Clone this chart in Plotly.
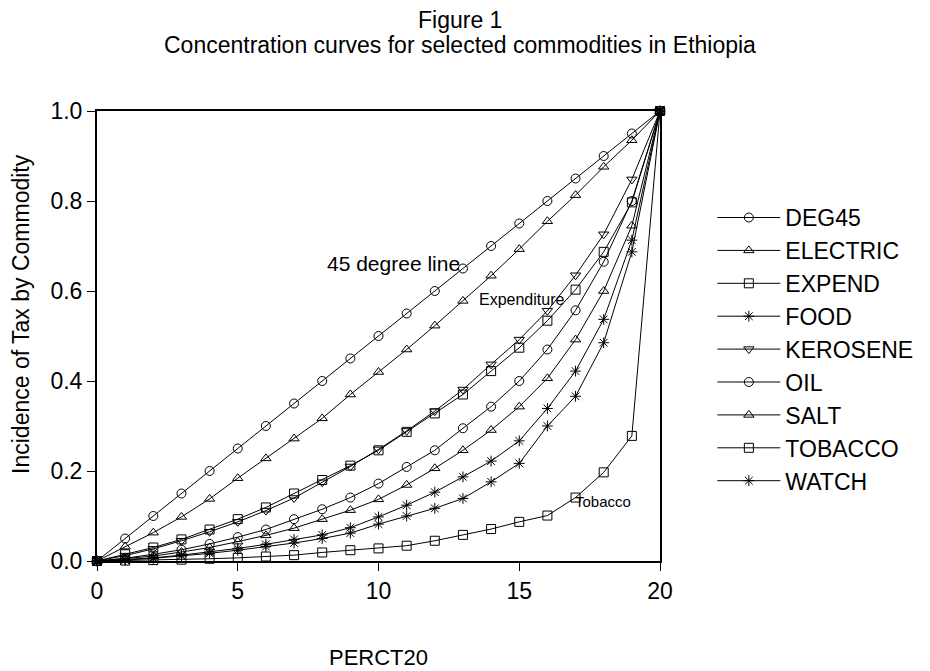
import plotly.graph_objects as go

percentile = list(range(0, 21))

deg45 = [0.00, 0.05, 0.10, 0.15, 0.20, 0.25, 0.30, 0.35, 0.40, 0.45, 0.50,
         0.55, 0.60, 0.65, 0.70, 0.75, 0.80, 0.85, 0.90, 0.95, 1.00]
electric = [0.000, 0.032, 0.063, 0.098, 0.138, 0.184, 0.228, 0.272, 0.317, 0.370, 0.420,
            0.470, 0.523, 0.578, 0.634, 0.693, 0.755, 0.813, 0.876, 0.935, 1.000]
expend = [0.000, 0.015, 0.030, 0.048, 0.070, 0.093, 0.119, 0.150, 0.180, 0.212, 0.246,
          0.287, 0.328, 0.370, 0.422, 0.474, 0.534, 0.603, 0.687, 0.797, 1.000]
food = [0.000, 0.003, 0.007, 0.013, 0.020, 0.028, 0.037, 0.048, 0.058, 0.074, 0.098,
        0.124, 0.153, 0.187, 0.222, 0.267, 0.339, 0.422, 0.537, 0.713, 1.000]
kerosene = [0.000, 0.012, 0.027, 0.045, 0.065, 0.087, 0.112, 0.140, 0.175, 0.210, 0.248,
            0.289, 0.333, 0.381, 0.437, 0.492, 0.556, 0.635, 0.726, 0.848, 1.000]
oil = [0.000, 0.006, 0.015, 0.025, 0.038, 0.053, 0.070, 0.093, 0.115, 0.141, 0.172,
       0.209, 0.246, 0.295, 0.343, 0.400, 0.470, 0.557, 0.665, 0.800, 1.000]
salt = [0.000, 0.005, 0.011, 0.020, 0.030, 0.043, 0.057, 0.073, 0.093, 0.113, 0.137,
        0.169, 0.206, 0.246, 0.291, 0.343, 0.406, 0.492, 0.600, 0.745, 1.000]
tobacco = [0.000, 0.001, 0.002, 0.003, 0.005, 0.007, 0.010, 0.013, 0.019, 0.024, 0.028,
           0.034, 0.045, 0.058, 0.071, 0.087, 0.101, 0.141, 0.197, 0.278, 1.000]
watch = [0.000, 0.002, 0.006, 0.011, 0.017, 0.024, 0.032, 0.040, 0.050, 0.062, 0.082,
         0.100, 0.117, 0.139, 0.176, 0.217, 0.300, 0.366, 0.485, 0.687, 1.000]

series_names = ["DEG45", "ELECTRIC", "EXPEND", "FOOD", "KEROSENE", "OIL", "SALT", "TOBACCO", "WATCH"]
series_values = [deg45, electric, expend, food, kerosene, oil, salt, tobacco, watch]
series_symbols = ["circle-open", "triangle-up-open", "square-open", "asterisk-open",
                  "triangle-down-open", "circle-open", "triangle-up-open", "square-open",
                  "asterisk-open"]

x_ticks = [0, 5, 10, 15, 20]
y_ticks = [0.0, 0.2, 0.4, 0.6, 0.8, 1.0]

curve_labels = ["45 degree line", "Expenditure", "Tobacco"]
label_x = [12.95, 13.5, 16.9]
label_y = [0.662, 0.581, 0.132]

title_lines = ["Figure 1", "Concentration curves for selected commodities in Ethiopia"]

FONT = "Liberation Sans, Arial, sans-serif"

fig = go.Figure()
for name, vals, sym in zip(series_names, series_values, series_symbols):
    fig.add_trace(go.Scatter(
        x=percentile, y=vals, name=name, mode="lines+markers",
        line=dict(color="black", width=1),
        marker=dict(symbol=sym, size=9, color="black", line=dict(width=1, color="black")),
        cliponaxis=False,
    ))

fig.add_annotation(x=label_x[0], y=label_y[0], text=curve_labels[0], showarrow=False,
                   xanchor="right", yanchor="middle", font=dict(size=21, color="black", family=FONT))
fig.add_annotation(x=label_x[1], y=label_y[1], text=curve_labels[1], showarrow=False,
                   xanchor="left", yanchor="middle", font=dict(size=16, color="black", family=FONT))
fig.add_annotation(x=label_x[2], y=label_y[2], text=curve_labels[2], showarrow=False,
                   xanchor="left", yanchor="middle", font=dict(size=15, color="black", family=FONT))

# title lines
fig.add_annotation(xref="paper", yref="paper", x=0.6456, y=1.2014, text=title_lines[0],
                   showarrow=False, xanchor="center", yanchor="middle",
                   font=dict(size=23, color="black", family=FONT))
fig.add_annotation(xref="paper", yref="paper", x=0.6456, y=1.1459, text=title_lines[1],
                   showarrow=False, xanchor="center", yanchor="middle",
                   font=dict(size=23, color="black", family=FONT))

# axis titles
fig.add_annotation(xref="paper", yref="paper", x=-0.135, y=0.549, text="Incidence of Tax by Commodity",
                   textangle=-90, showarrow=False, xanchor="center", yanchor="middle",
                   font=dict(size=23, color="black", family=FONT))
fig.add_annotation(xref="paper", yref="paper", x=0.5, y=-0.2154, text="PERCT20",
                   showarrow=False, xanchor="center", yanchor="middle",
                   font=dict(size=22, color="black", family=FONT))

fig.update_layout(
    width=922, height=663,
    margin=dict(l=89, r=263, t=103, b=110),
    paper_bgcolor="white", plot_bgcolor="white",
    font=dict(family=FONT, color="black"),
    showlegend=True,
    legend=dict(x=1.093, xanchor="left", y=0.811, yanchor="top",
                font=dict(size=23, color="black", family=FONT),
                itemwidth=63,
                bgcolor="rgba(0,0,0,0)", tracegroupgap=0),
)
fig.update_xaxes(range=[0, 20], tickvals=x_ticks, ticks="outside", ticklen=8,
                 tickwidth=1, tickcolor="black", showline=True, linecolor="black", linewidth=2,
                 mirror=True, showgrid=False, zeroline=False,
                 tickfont=dict(size=23, color="black", family=FONT))
fig.update_yaxes(range=[0, 1], tickvals=y_ticks, tickformat=".1f",
                 ticks="outside", ticklen=8, tickwidth=1, tickcolor="black",
                 showline=True, linecolor="black", linewidth=2, mirror=True,
                 showgrid=False, zeroline=False,
                 tickfont=dict(size=23, color="black", family=FONT))

fig.write_html("out.html")
